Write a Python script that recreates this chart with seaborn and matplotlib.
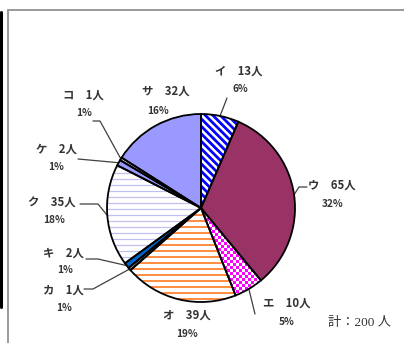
import numpy as np
import matplotlib
matplotlib.use("Agg")
import matplotlib.pyplot as plt
import matplotlib.patches as mpatches
from matplotlib.colors import ListedColormap
import seaborn as sns

# data
categories = ["イ", "ウ", "エ", "オ", "カ", "キ", "ク", "ケ", "コ", "サ"]
counts = [13, 65, 10, 39, 1, 2, 35, 2, 1, 32]
percents = [6, 32, 5, 19, 1, 1, 18, 1, 1, 16]
total_label = "計：200 人"

sns.set_style("white")
plt.rcParams["font.family"] = ["Noto Sans CJK JP", "DejaVu Sans"]

W, H = 404, 343
fig = plt.figure(figsize=(W / 100, H / 100), dpi=100)
ax = fig.add_axes([0, 0, 1, 1])
cx, cy, R = 201, H - 208, 94

face = ["white", "#993366", "white", "white", "#8FA3A3", "#0066CC",
        "white", "#9999FF", "#CCCCFF", "#9999FF"]
wedges, _ = ax.pie(counts, colors=face, startangle=90, counterclock=False,
                   center=(cx, cy), radius=R,
                   wedgeprops=dict(linewidth=0, edgecolor="none"))


def hstripes(w, color, lw, step):
    for y in np.arange(cy - R + step / 2, cy + R, step):
        ln, = ax.plot([cx - R - 5, cx + R + 5], [y, y], color=color, lw=lw, zorder=2)
        ln.set_clip_path(w)


def dstripes(w, color, lw, step):
    x0, x1 = cx - R - 5, cx + R + 5
    for c in np.arange(cx + cy - 2 * R, cx + cy + 2 * R, step):
        ln, = ax.plot([x0, x1], [c - x0, c - x1], color=color, lw=lw, zorder=2)
        ln.set_clip_path(w)


dstripes(wedges[0], "#0000FF", 2.0, 7.5)
hstripes(wedges[3], "#FF8C40", 1.4, 6)
hstripes(wedges[6], "#C0C0F0", 0.9, 6)

# checkerboard for エ
n = int(2 * R / 3) + 2
grid = np.add.outer(np.arange(n), np.arange(n)) % 2
im = ax.imshow(grid, cmap=ListedColormap(["white", "#FF00FF"]),
               extent=(cx - R, cx - R + n * 3, cy - R, cy - R + n * 3),
               interpolation="nearest", zorder=2)
im.set_clip_path(wedges[2])

for w in wedges:
    ax.add_patch(mpatches.Wedge(w.center, w.r, w.theta1, w.theta2, fill=False,
                                edgecolor="black", lw=1.3, zorder=3))

# labels (image coords, y down)
name_pos = [(239, 71), (332, 185), (287, 303), (187, 315), (63, 290),
            (63, 253), (52, 203), (56, 149), (83, 95), (166, 91)]
pct_pos = [(240, 89), (333, 204), (287, 322), (187, 334), (64, 308),
           (65, 270), (54, 220), (56, 167), (84, 113), (158, 111)]
anchors = [(227, 98), (307, 187), (255, 314), None, (84, 289),
           (86, 259), (80, 204), (78, 159), (93, 121), None]
elbows = [0, -8, 0, 0, 9, 12, 18, 0, 7, 0]

txt = "#333333"
for i, w in enumerate(wedges):
    nx, ny = name_pos[i]
    ax.text(nx, H - ny, f"{categories[i]}　{counts[i]}人", ha="center", va="center",
            fontsize=8.2, fontweight="bold", color=txt)
    px, py = pct_pos[i]
    ax.text(px, H - py, f"{percents[i]}%", ha="center", va="center",
            fontsize=7.3, fontweight="bold", color=txt)
    if anchors[i] is not None:
        mid = np.deg2rad((w.theta1 + w.theta2) / 2)
        ex, ey = cx + R * np.cos(mid), cy + R * np.sin(mid)
        axp, ayp = anchors[i][0], H - anchors[i][1]
        ax.plot([axp, axp + elbows[i], ex], [ayp, ayp, ey], color="#404040",
                lw=0.9, zorder=1)

ax.text(359, H - 323, total_label, ha="center", va="center", fontsize=9.5,
        color=txt, family=["Liberation Serif", "Noto Sans CJK JP"])

# frame lines
ax.plot([1, 1], [H - 12, H - 307], color="black", lw=2.2, zorder=0)
ax.plot([7.5, 7.5], [0, H - 10], color="#999999", lw=1.4, zorder=0)
ax.plot([7.5, W], [H - 10, H - 10], color="#999999", lw=1.4, zorder=0)

ax.set_xlim(0, W)
ax.set_ylim(0, H)
ax.set_aspect("equal")
ax.axis("off")

fig.savefig("out.png", dpi=100)
